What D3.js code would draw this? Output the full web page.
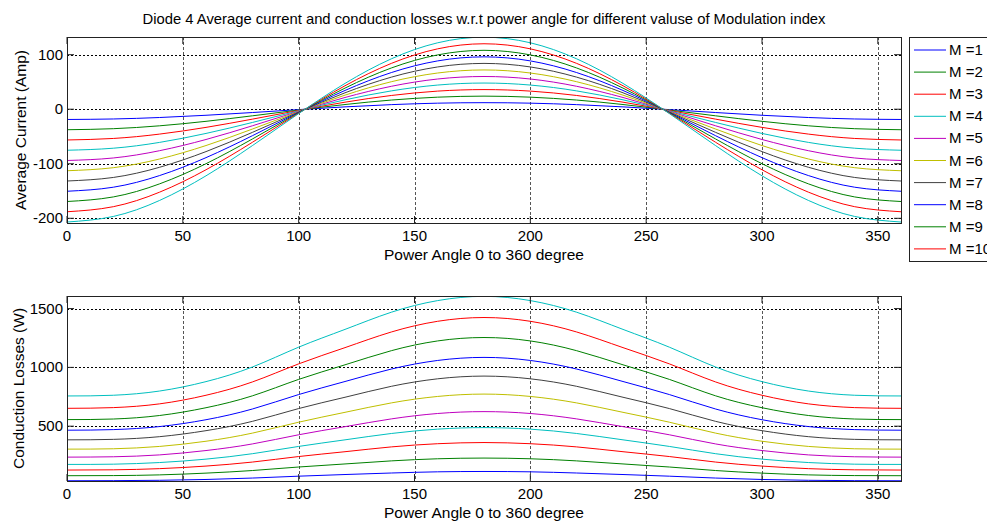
<!DOCTYPE html>
<html>
<head>
<meta charset="utf-8">
<script src="https://cdn.jsdelivr.net/npm/d3@7"></script>
<style>
  body { margin: 0; background: #fff; }
  svg { display: block; font-family: "Liberation Sans", Arial, sans-serif; }
</style>
</head>
<body>
<svg id="chart"></svg>
<script>
// power angle samples (degrees)
const angles = [0, 20, 40, 60, 80, 100, 120, 140, 160, 180, 200, 220, 240, 260, 280, 300, 320, 340, 360];
const legendLabels = ["M =1", "M =2", "M =3", "M =4", "M =5", "M =6", "M =7", "M =8", "M =9", "M =10"];
const xTicks = [0, 50, 100, 150, 200, 250, 300, 350];
const currentTicks = [-200, -100, 0, 100];
const lossTicks = [500, 1000, 1500];

// average current (Amp), one row per modulation index M = 1..11
const avgCurrent = [
  [-18.8, -17.9, -15.2, -11.1, -6.1, -0.7, 4.3, 8.4, 11.1, 12.0, 11.1, 8.4, 4.3, -0.7, -6.1, -11.1, -15.2, -17.9, -18.8],
  [-37.6, -35.7, -30.4, -22.2, -12.1, -1.5, 8.6, 16.8, 22.1, 24.0, 22.1, 16.8, 8.6, -1.5, -12.1, -22.2, -30.4, -35.7, -37.6],
  [-56.4, -53.6, -45.6, -33.3, -18.2, -2.2, 12.9, 25.2, 33.2, 36.0, 33.2, 25.2, 12.9, -2.2, -18.2, -33.3, -45.6, -53.6, -56.4],
  [-75.2, -71.5, -60.8, -44.4, -24.3, -2.9, 17.2, 33.6, 44.3, 48.0, 44.3, 33.6, 17.2, -2.9, -24.3, -44.4, -60.8, -71.5, -75.2],
  [-94.0, -89.4, -76.0, -55.5, -30.4, -3.7, 21.5, 42.0, 55.4, 60.0, 55.4, 42.0, 21.5, -3.7, -30.4, -55.5, -76.0, -89.4, -94.0],
  [-112.8, -107.2, -91.2, -66.6, -36.4, -4.4, 25.8, 50.4, 66.4, 72.0, 66.4, 50.4, 25.8, -4.4, -36.4, -66.6, -91.2, -107.2, -112.8],
  [-131.6, -125.1, -106.4, -77.7, -42.5, -5.1, 30.1, 58.8, 77.5, 84.0, 77.5, 58.8, 30.1, -5.1, -42.5, -77.7, -106.4, -125.1, -131.6],
  [-150.4, -143.0, -121.6, -88.8, -48.6, -5.8, 34.4, 67.2, 88.6, 96.0, 88.6, 67.2, 34.4, -5.8, -48.6, -88.8, -121.6, -143.0, -150.4],
  [-169.2, -160.8, -136.8, -99.9, -54.6, -6.6, 38.7, 75.6, 99.6, 108.0, 99.6, 75.6, 38.7, -6.6, -54.6, -99.9, -136.8, -160.8, -169.2],
  [-188.0, -178.7, -152.0, -111.0, -60.7, -7.3, 43.0, 84.0, 110.7, 120.0, 110.7, 84.0, 43.0, -7.3, -60.7, -111.0, -152.0, -178.7, -188.0],
  [-206.8, -196.6, -167.2, -122.1, -66.8, -8.0, 47.3, 92.4, 121.8, 132.0, 121.8, 92.4, 47.3, -8.0, -66.8, -122.1, -167.2, -196.6, -206.8]
];

// conduction losses (W), one row per modulation index M = 1..11
const condLosses = [
  [36, 37, 40, 47, 59, 75, 89, 102, 112, 115, 112, 102, 89, 75, 59, 47, 40, 37, 36],
  [79, 80, 86, 101, 123, 153, 179, 205, 223, 229, 223, 205, 179, 153, 123, 101, 86, 80, 79],
  [127, 129, 139, 161, 195, 242, 283, 324, 351, 361, 351, 324, 283, 242, 195, 161, 139, 129, 127],
  [175, 177, 191, 220, 266, 328, 384, 438, 475, 488, 475, 438, 384, 328, 266, 220, 191, 177, 175],
  [237, 240, 256, 293, 349, 427, 496, 562, 608, 624, 608, 562, 496, 427, 349, 293, 256, 240, 237],
  [305, 308, 328, 372, 441, 534, 618, 698, 753, 773, 753, 698, 618, 534, 441, 372, 328, 308, 305],
  [384, 388, 411, 462, 541, 650, 746, 839, 903, 926, 903, 839, 746, 650, 541, 462, 411, 388, 384],
  [466, 471, 497, 555, 646, 769, 880, 986, 1059, 1085, 1059, 986, 880, 769, 646, 555, 497, 471, 466],
  [556, 561, 591, 657, 758, 898, 1022, 1142, 1225, 1254, 1225, 1142, 1022, 898, 758, 657, 591, 561, 556],
  [652, 658, 690, 763, 876, 1030, 1168, 1301, 1392, 1424, 1392, 1301, 1168, 1030, 876, 763, 690, 658, 652],
  [757, 763, 799, 879, 1003, 1172, 1323, 1469, 1568, 1604, 1568, 1469, 1323, 1172, 1003, 879, 799, 763, 757]
];

const colors = ["#0000ff", "#008000", "#ff0000", "#00bfbf", "#bf00bf", "#bfbf00", "#404040"];
const width = 987;
const height = 524;
const tickFont = 15;
const labelFont = 15.5;

const svg = d3.select("#chart").attr("width", width).attr("height", height);

const x = d3.scaleLinear().domain([0, 360]).range([67, 901]);

function panel(id, top, bottom, yDomain, yTicks, series, ylabel, ylabelX) {
  const y = d3.scaleLinear().domain(yDomain).range([bottom, top]);
  const g = svg.append("g");

  g.append("clipPath")
    .attr("id", id)
    .append("rect")
    .attr("x", x.range()[0])
    .attr("y", top)
    .attr("width", x.range()[1] - x.range()[0])
    .attr("height", bottom - top);

  // dotted grid
  g.append("g")
    .selectAll("line")
    .data(xTicks.filter((d) => d > 0))
    .join("line")
    .attr("x1", (d) => Math.round(x(d)) + 0.5)
    .attr("x2", (d) => Math.round(x(d)) + 0.5)
    .attr("y1", top)
    .attr("y2", bottom)
    .attr("stroke", "#555")
    .attr("stroke-dasharray", "3,2");
  g.append("g")
    .selectAll("line")
    .data(yTicks)
    .join("line")
    .attr("x1", x.range()[0])
    .attr("x2", x.range()[1])
    .attr("y1", (d) => Math.round(y(d)) + 0.5)
    .attr("y2", (d) => Math.round(y(d)) + 0.5)
    .attr("stroke", "#000")
    .attr("stroke-dasharray", "2,2");

  const line = d3
    .line()
    .x((d, i) => x(angles[i]))
    .y((d) => y(d))
    .curve(d3.curveNatural);

  g.append("g")
    .attr("clip-path", `url(#${id})`)
    .selectAll("path")
    .data(series)
    .join("path")
    .attr("d", line)
    .attr("fill", "none")
    .attr("stroke", (d, i) => colors[i % colors.length])
    .attr("stroke-width", 1);

  // box and inner ticks
  g.append("rect")
    .attr("x", x.range()[0] + 0.5)
    .attr("y", top + 0.5)
    .attr("width", x.range()[1] - x.range()[0])
    .attr("height", bottom - top)
    .attr("fill", "none")
    .attr("stroke", "#222");

  const tk = 7;
  g.append("g")
    .selectAll("path")
    .data(xTicks)
    .join("path")
    .attr("d", (d) => `M${x(d)},${bottom}v${-tk}M${x(d)},${top}v${tk}`)
    .attr("stroke", "#222");
  g.append("g")
    .selectAll("path")
    .data(yTicks)
    .join("path")
    .attr("d", (d) => `M${x.range()[0]},${y(d)}h${tk}M${x.range()[1]},${y(d)}h${-tk}`)
    .attr("stroke", "#222");

  g.append("g")
    .selectAll("text")
    .data(xTicks)
    .join("text")
    .attr("x", (d) => x(d))
    .attr("y", bottom + 18)
    .attr("text-anchor", "middle")
    .attr("font-size", tickFont)
    .text((d) => d);
  g.append("g")
    .selectAll("text")
    .data(yTicks)
    .join("text")
    .attr("x", 63)
    .attr("y", (d) => y(d) + 5)
    .attr("text-anchor", "end")
    .attr("font-size", tickFont)
    .text((d) => d);

  g.append("text")
    .attr("x", (x.range()[0] + x.range()[1]) / 2)
    .attr("y", bottom + 37)
    .attr("text-anchor", "middle")
    .attr("font-size", labelFont)
    .text("Power Angle 0 to 360 degree");
  g.append("text")
    .attr("transform", `translate(${ylabelX},${(top + bottom) / 2}) rotate(-90)`)
    .attr("text-anchor", "middle")
    .attr("font-size", labelFont)
    .text(ylabel);
}

panel("clipTop", 37, 223, [-208.6, 132.4], currentTicks, avgCurrent, "Average Current (Amp)", 26);
panel("clipBottom", 296, 481, [34, 1607], lossTicks, condLosses, "Conduction Losses (W)", 24);

svg
  .append("text")
  .attr("x", 484)
  .attr("y", 24)
  .attr("text-anchor", "middle")
  .attr("font-size", 14.8)
  .text("Diode 4 Average current and conduction losses w.r.t power angle for different valuse of Modulation index");

// legend (cut at the right edge like the original)
const legend = svg.append("g");
legend
  .append("rect")
  .attr("x", 909.5)
  .attr("y", 37.5)
  .attr("width", 100)
  .attr("height", 224)
  .attr("fill", "#fff")
  .attr("stroke", "#222");
const rows = legend
  .selectAll("g.row")
  .data(legendLabels)
  .join("g")
  .attr("class", "row")
  .attr("transform", (d, i) => `translate(0,${50 + i * 22.1})`);
rows
  .append("line")
  .attr("x1", 914)
  .attr("x2", 946)
  .attr("stroke", (d, i) => colors[i % colors.length]);
rows
  .append("text")
  .attr("x", 949)
  .attr("y", 5)
  .attr("font-size", tickFont)
  .text((d) => d);
</script>
</body>
</html>
